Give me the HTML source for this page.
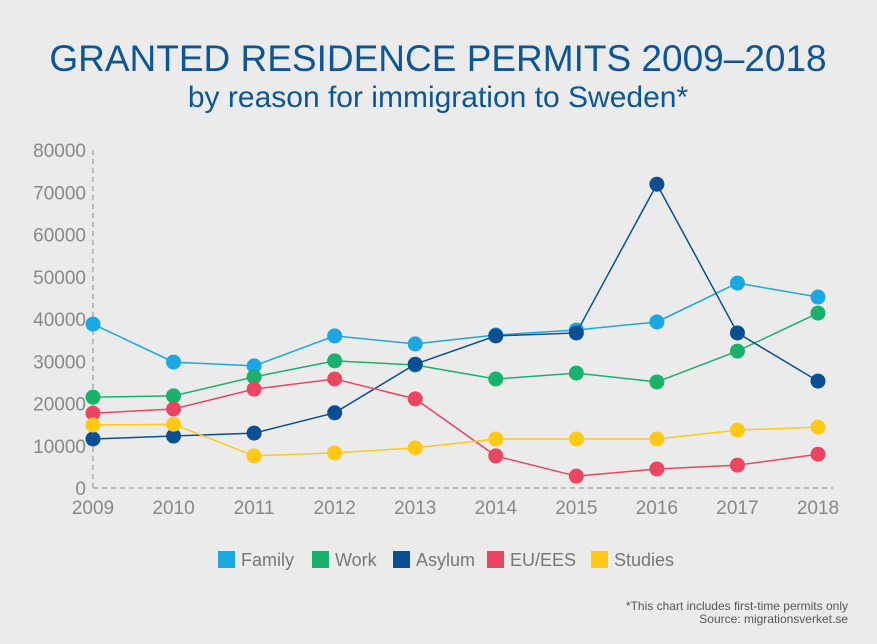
<!DOCTYPE html>
<html><head><meta charset="utf-8"><style>
body{margin:0;background:#ebebeb;font-family:"Liberation Sans",Arial,sans-serif;}
#wrap{position:relative;width:877px;height:644px;overflow:hidden;background:#ebebeb;}
</style></head><body>
<div id="wrap">
<svg id="chart" width="877" height="644">
<text x="438" y="71" text-anchor="middle" font-size="37" fill="#0e5596">GRANTED RESIDENCE PERMITS 2009–2018</text>
<text x="438" y="107" text-anchor="middle" font-size="30" fill="#0e5596">by reason for immigration to Sweden*</text>
<g id="axes"></g>
<g id="series"></g>
<g id="legend"></g>
<text x="848" y="610" text-anchor="end" font-size="12" fill="#555">*This chart includes first-time permits only</text>
<text x="848" y="623" text-anchor="end" font-size="12" fill="#555">Source: migrationsverket.se</text>
</svg>
</div>
<script>
const years=[2009,2010,2011,2012,2013,2014,2015,2016,2017,2018];
const yTicks=[0,10000,20000,30000,40000,50000,60000,70000,80000];
const seriesNames=["Family","Work","Asylum","EU/EES","Studies"];
const seriesColors=["#1ba8e2","#19b26b","#0b4f93","#ea4662","#ffc916"];
const family=[38800,29800,28900,36000,34100,36200,37400,39300,48500,45200];
const work=[21500,21800,26300,30100,29100,25800,27200,25100,32400,41400];
const asylum=[11600,12300,13000,17800,29300,36000,36700,71900,36700,25300];
const eu=[17700,18700,23400,25800,21100,7600,2800,4500,5400,8000];
const studies=[14900,15100,7600,8300,9500,11600,11600,11600,13700,14400];
const allSeries=[family,work,asylum,eu,studies];
const NS="http://www.w3.org/2000/svg";
const x0=93,x1=818,yb=488,yt=150;
const xs=i=>x0+(x1-x0)*i/(years.length-1);
const ys=v=>yb-(yb-yt)*v/80000;
function mk(tag,attrs,parent){const e=document.createElementNS(NS,tag);for(const k in attrs)e.setAttribute(k,attrs[k]);parent.appendChild(e);return e;}
const ax=document.getElementById('axes');
let l=mk('line',{x1:x0,y1:yt,x2:x0,y2:yb,stroke:'#aaa','stroke-width':1.5,'stroke-dasharray':'5,4'},ax);


l=mk('line',{x1:x0,y1:yb,x2:x1+15,y2:yb,stroke:'#aaa','stroke-width':1.5,'stroke-dasharray':'5,4'},ax);


yTicks.forEach(v=>{const t=mk('text',{x:x0-7,y:ys(v)+7,'text-anchor':'end','font-size':19,fill:'#888'},ax);t.textContent=v;

});
years.forEach((y,i)=>{const t=mk('text',{x:xs(i),y:yb+26,'text-anchor':'middle','font-size':19,fill:'#888'},ax);t.textContent=y;

});
const sg=document.getElementById('series');
allSeries.forEach((d,si)=>{
 const g=mk('g',{},sg);
 
 
 const p=mk('polyline',{points:d.map((v,i)=>xs(i)+','+ys(v)).join(' '),fill:'none',stroke:seriesColors[si],'stroke-width':1.5},g);
 
 
 d.forEach((v,i)=>{const c=mk('circle',{cx:xs(i),cy:ys(v),r:7.5,fill:seriesColors[si]},g);
 
 });
});
const lg=document.getElementById('legend');
const lx=[218,312,393,487,591];
seriesNames.forEach((n,i)=>{
 const r=mk('rect',{x:lx[i],y:551,width:17,height:17,fill:seriesColors[i]},lg);
 
 
 const t=mk('text',{x:lx[i]+23,y:566,'font-size':18,fill:'#777'},lg);t.textContent=n;
 
 
});
</script>
</body></html>
